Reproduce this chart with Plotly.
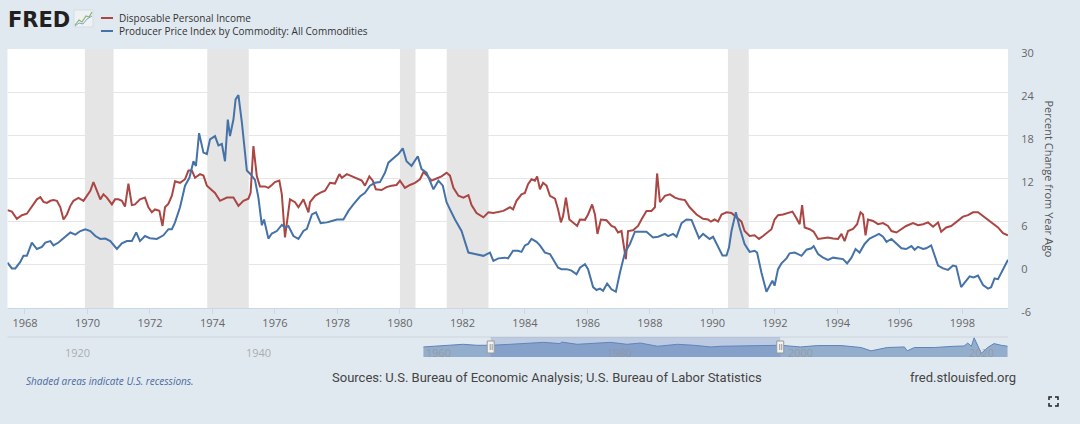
import datetime as dt
import plotly.graph_objects as go

# ---------------- data ----------------
dpi_years = [1967.44, 1967.58, 1967.74, 1967.90, 1968.06, 1968.27, 1968.38, 1968.49, 1968.59, 1968.70,
             1968.81, 1968.91, 1969.02, 1969.13, 1969.23, 1969.34, 1969.45, 1969.55, 1969.71, 1969.87,
             1969.98, 1970.09, 1970.19, 1970.30, 1970.41, 1970.51, 1970.62, 1970.78, 1970.88, 1970.99,
             1971.10, 1971.20, 1971.31, 1971.42, 1971.52, 1971.68, 1971.84, 1971.95, 1972.06, 1972.16,
             1972.30, 1972.40, 1972.48, 1972.59, 1972.70, 1972.80, 1972.96, 1973.12, 1973.23, 1973.34,
             1973.44, 1973.60, 1973.71, 1973.82, 1973.98, 1974.08, 1974.24, 1974.46, 1974.67, 1974.83,
             1974.99, 1975.15, 1975.22, 1975.31, 1975.42, 1975.52, 1975.68, 1975.79, 1975.90, 1976.00,
             1976.14, 1976.22, 1976.32, 1976.40, 1976.48, 1976.64, 1976.75, 1976.91, 1977.07, 1977.12,
             1977.28, 1977.44, 1977.60, 1977.76, 1977.92, 1978.06, 1978.14, 1978.30, 1978.46, 1978.62,
             1978.78, 1978.88, 1979.02, 1979.13, 1979.23, 1979.41, 1979.57, 1979.73, 1979.89, 1980.00,
             1980.16, 1980.32, 1980.48, 1980.64, 1980.75, 1980.85, 1981.01, 1981.17, 1981.33, 1981.49,
             1981.60, 1981.71, 1981.87, 1982.03, 1982.19, 1982.29, 1982.45, 1982.67, 1982.83, 1982.99,
             1983.15, 1983.31, 1983.52, 1983.62, 1983.73, 1983.89, 1984.00, 1984.10, 1984.21, 1984.32,
             1984.39, 1984.48, 1984.58, 1984.69, 1984.80, 1984.96, 1985.06, 1985.15, 1985.22, 1985.31,
             1985.42, 1985.54, 1985.67, 1985.76, 1985.92, 1986.02, 1986.15, 1986.24, 1986.32, 1986.43,
             1986.61, 1986.77, 1986.88, 1986.98, 1987.09, 1987.23, 1987.30, 1987.46, 1987.62, 1987.73,
             1987.89, 1988.05, 1988.16, 1988.23, 1988.32, 1988.48, 1988.64, 1988.80, 1988.96, 1989.12,
             1989.27, 1989.49, 1989.70, 1989.86, 1989.95, 1990.07, 1990.18, 1990.29, 1990.45, 1990.61,
             1990.77, 1990.93, 1991.03, 1991.19, 1991.35, 1991.49, 1991.62, 1991.78, 1991.89, 1991.99,
             1992.10, 1992.26, 1992.42, 1992.56, 1992.67, 1992.79, 1992.87, 1992.95, 1993.11, 1993.24,
             1993.38, 1993.54, 1993.70, 1993.86, 1994.02, 1994.13, 1994.23, 1994.34, 1994.50, 1994.63,
             1994.74, 1994.82, 1994.90, 1994.98, 1995.14, 1995.30, 1995.46, 1995.62, 1995.73, 1995.89,
             1996.05, 1996.20, 1996.42, 1996.58, 1996.74, 1996.90, 1997.06, 1997.22, 1997.32, 1997.48,
             1997.64, 1997.86, 1998.02, 1998.18, 1998.34, 1998.50, 1998.66, 1998.82, 1998.98, 1999.14,
             1999.30, 1999.46]
dpi_values = [7.6, 7.4, 6.4, 6.9, 7.1, 8.4, 9.1, 9.4, 8.75, 8.6,
              8.9, 9.0, 8.9, 8.0, 6.3, 7.0, 8.2, 8.9, 9.3, 8.9,
              9.6, 10.3, 11.5, 10.3, 9.1, 9.8, 9.35, 8.4, 9.1, 9.1,
              8.9, 8.1, 11.3, 8.3, 8.4, 9.1, 9.35, 8.0, 7.3, 7.7,
              7.5, 5.4, 8.0, 8.5, 9.6, 11.6, 11.4, 11.9, 13.1, 13.1,
              12.1, 12.6, 12.4, 11.0, 10.3, 10.0, 8.9, 9.35, 9.35, 8.2,
              8.9, 9.2, 10.0, 16.5, 12.3, 10.9, 10.9, 10.7, 11.1, 11.5,
              11.7, 9.8, 3.8, 6.8, 9.1, 8.7, 8.0, 9.1, 7.3, 8.7,
              9.6, 10.0, 10.3, 11.4, 11.3, 12.6, 12.1, 12.6, 12.3, 12.1,
              11.7, 11.0, 12.3, 11.7, 10.5, 10.4, 10.8, 11.0, 11.1, 11.7,
              10.7, 11.1, 11.4, 11.9, 12.9, 12.5, 11.7, 12.0, 12.3, 12.8,
              12.4, 10.7, 9.6, 9.35, 9.7, 8.3, 7.2, 6.6, 7.3, 7.2,
              7.4, 7.5, 8.0, 7.7, 8.9, 9.8, 10.0, 11.2, 11.9, 11.7,
              12.3, 10.5, 11.4, 11.0, 9.6, 9.2, 7.7, 5.9, 6.8, 9.35,
              6.3, 5.8, 5.4, 6.3, 6.25, 7.0, 8.4, 7.0, 4.3, 6.3,
              6.2, 5.4, 5.2, 4.5, 4.7, 0.8, 4.7, 4.8, 5.4, 6.3,
              7.5, 7.5, 8.0, 12.7, 8.7, 9.6, 9.8, 9.35, 9.1, 9.0,
              8.0, 7.0, 6.4, 6.3, 6.0, 6.3, 6.0, 7.0, 7.3, 7.2,
              6.6, 6.0, 4.7, 4.0, 4.1, 3.6, 4.0, 4.6, 4.95, 6.3,
              6.9, 7.0, 7.2, 7.4, 6.6, 5.65, 8.3, 5.2, 4.95, 4.6,
              3.6, 3.65, 3.8, 3.65, 3.6, 4.3, 3.3, 4.7, 5.0, 5.65,
              7.3, 7.0, 4.1, 6.3, 6.1, 5.65, 5.8, 5.4, 4.7, 4.5,
              5.0, 5.4, 5.8, 5.5, 5.65, 5.9, 5.3, 5.9, 4.6, 5.2,
              5.4, 6.1, 6.7, 6.9, 7.3, 7.3, 6.8, 6.3, 5.8, 5.2,
              4.4, 4.1]

ppi_years = [1967.44, 1967.58, 1967.69, 1967.85, 1967.95, 1968.06, 1968.22, 1968.38, 1968.54, 1968.65,
             1968.81, 1968.91, 1969.07, 1969.23, 1969.45, 1969.61, 1969.77, 1969.93, 1970.09, 1970.25,
             1970.41, 1970.57, 1970.73, 1970.94, 1971.10, 1971.26, 1971.42, 1971.56, 1971.68, 1971.84,
             1972.00, 1972.22, 1972.43, 1972.59, 1972.70, 1972.80, 1972.96, 1973.12, 1973.26, 1973.39,
             1973.47, 1973.57, 1973.71, 1973.82, 1973.92, 1974.08, 1974.19, 1974.30, 1974.40, 1974.49,
             1974.56, 1974.67, 1974.74, 1974.83, 1974.94, 1975.10, 1975.22, 1975.36, 1975.47, 1975.58,
             1975.65, 1975.79, 1975.90, 1976.06, 1976.22, 1976.32, 1976.43, 1976.59, 1976.75, 1976.91,
             1977.02, 1977.18, 1977.31, 1977.46, 1977.66, 1977.82, 1977.98, 1978.19, 1978.35, 1978.51,
             1978.72, 1978.88, 1979.04, 1979.20, 1979.36, 1979.52, 1979.63, 1979.79, 1979.95, 1980.09,
             1980.21, 1980.37, 1980.57, 1980.69, 1980.85, 1981.07, 1981.23, 1981.37, 1981.49, 1981.60,
             1981.76, 1981.97, 1982.19, 1982.40, 1982.67, 1982.88, 1982.99, 1983.15, 1983.36, 1983.46,
             1983.62, 1983.78, 1983.89, 1984.00, 1984.10, 1984.21, 1984.37, 1984.48, 1984.64, 1984.80,
             1984.90, 1985.06, 1985.17, 1985.33, 1985.49, 1985.65, 1985.76, 1985.92, 1986.02, 1986.18,
             1986.29, 1986.40, 1986.50, 1986.63, 1986.77, 1986.91, 1987.04, 1987.20, 1987.36, 1987.52,
             1987.68, 1987.89, 1988.10, 1988.26, 1988.48, 1988.58, 1988.74, 1988.85, 1989.01, 1989.17,
             1989.33, 1989.43, 1989.57, 1989.70, 1989.81, 1989.91, 1990.02, 1990.18, 1990.32, 1990.45,
             1990.53, 1990.61, 1990.75, 1990.87, 1991.03, 1991.19, 1991.35, 1991.43, 1991.57, 1991.73,
             1991.83, 1991.92, 1991.99, 1992.10, 1992.21, 1992.37, 1992.47, 1992.63, 1992.74, 1992.85,
             1993.01, 1993.17, 1993.24, 1993.38, 1993.54, 1993.70, 1993.86, 1994.02, 1994.18, 1994.31,
             1994.45, 1994.58, 1994.71, 1994.87, 1995.03, 1995.19, 1995.33, 1995.46, 1995.57, 1995.73,
             1995.89, 1996.05, 1996.20, 1996.37, 1996.47, 1996.58, 1996.74, 1996.84, 1997.00, 1997.11,
             1997.22, 1997.38, 1997.54, 1997.70, 1997.80, 1997.96, 1998.12, 1998.23, 1998.36, 1998.50,
             1998.66, 1998.82, 1998.92, 1999.03, 1999.14, 1999.30, 1999.46]
ppi_values = [0.3, -0.5, -0.5, 0.4, 1.25, 1.25, 3.1, 2.2, 2.5, 3.1,
              3.3, 2.7, 3.1, 3.65, 4.5, 4.2, 4.7, 4.95, 4.7, 4.0,
              3.6, 3.65, 3.3, 2.2, 3.0, 3.3, 3.3, 4.5, 3.3, 4.0,
              3.7, 3.6, 4.1, 4.95, 4.95, 5.9, 8.0, 11.0, 12.1, 14.4,
              13.75, 18.3, 15.6, 15.4, 17.45, 17.9, 16.6, 16.8, 14.4, 20.2,
              17.9, 20.2, 23.0, 23.6, 19.8, 13.1, 12.6, 11.8, 9.35, 5.5,
              6.3, 3.65, 4.35, 4.7, 5.55, 5.2, 5.4, 4.0, 3.6, 4.7,
              5.0, 7.0, 7.3, 5.8, 5.9, 6.1, 6.3, 6.3, 7.5, 8.4,
              9.5, 10.0, 11.0, 11.4, 11.5, 12.8, 14.2, 14.8, 15.4, 16.2,
              14.4, 13.75, 15.1, 13.3, 12.8, 10.5, 11.7, 11.0, 8.7, 7.7,
              6.3, 4.7, 1.7, 1.5, 1.25, 1.7, 0.55, 0.9, 1.0, 0.9,
              1.95, 1.95, 1.8, 2.7, 2.9, 3.6, 3.2, 2.7, 1.7, 1.5,
              0.8, -0.4, -0.6, -0.6, -0.8, -1.3, -0.4, 0.1, -0.6, -3.1,
              -3.5, -3.3, -3.6, -2.6, -3.4, -3.75, -1.1, 1.7, 2.9, 4.6,
              4.6, 4.6, 3.8, 3.9, 4.3, 4.0, 4.3, 3.9, 5.8, 6.3,
              6.25, 5.2, 3.7, 4.3, 3.9, 3.6, 3.9, 2.4, 1.3, 1.3,
              2.4, 4.7, 7.3, 5.2, 2.9, 1.8, 1.95, 1.7, -1.1, -3.75,
              -2.9, -2.2, -2.9, -0.6, 0.2, 0.9, 1.6, 1.7, 1.5, 1.25,
              2.1, 2.3, 2.6, 1.5, 1.0, 0.7, 1.0, 0.9, 0.8, 0.2,
              1.0, 2.2, 1.7, 2.9, 3.65, 4.0, 4.3, 3.9, 3.2, 3.6,
              3.0, 2.3, 2.2, 2.6, 2.1, 2.5, 2.2, 2.3, 2.7, 1.25,
              -0.1, -0.5, -0.7, -0.1, -0.2, -3.1, -2.2, -1.6, -1.75, -1.5,
              -2.8, -3.3, -3.1, -1.9, -2.0, -0.6, 0.7]

# navigator (full-history overview of the first series, on its own small scale)
nav_years = [1960.0, 1961.5, 1963.0, 1964.4, 1965.9, 1967.5, 1969.6, 1971.5, 1973.3, 1975.1,
             1975.3, 1977.0, 1978.8, 1980.7, 1982.5, 1984.0, 1985.9, 1988.1, 1989.9, 1991.8,
             1992.9, 1995.1, 1997.3, 1999.5, 2001.7, 2003.6, 2006.2, 2008.4, 2009.5, 2011.3,
             2013.2, 2013.5, 2014.3, 2016.5, 2018.7, 2019.8, 2020.2, 2020.6, 2020.9, 2021.3,
             2021.7, 2022.4, 2023.1, 2023.9, 2024.6]
nav_values = [9.6, 11.1, 13.2, 15.3, 13.2, 13.2, 15.3, 16.8, 19.5, 16.8,
              20.1, 15.3, 18.0, 19.5, 15.3, 18.0, 11.1, 15.3, 13.2, 9.6,
              11.1, 11.7, 12.6, 13.2, 9.6, 12.6, 12.6, 8.4, 1.2, 8.4,
              9.6, 1.2, 8.4, 8.4, 11.1, 11.7, 18.0, 11.1, 29.4, 11.1,
              -4.2, 8.4, 16.8, 13.2, 11.1]

recessions = [("1969-12-01", "1970-11-01"), ("1973-11-01", "1975-03-01"),
              ("1980-01-01", "1980-07-01"), ("1981-07-01", "1982-11-01"),
              ("1990-07-01", "1991-03-01")]

x_tick_years = list(range(1968, 2000, 2))
y_ticks = [-6, 0, 6, 12, 18, 24, 30]
nav_tick_years = [1920, 1940, 1960, 1980, 2000, 2020]

series_names = ["Disposable Personal Income",
                "Producer Price Index by Commodity: All Commodities"]
RED = "#AA4643"
BLUE = "#4572A7"
BG = "#e1e9f0"
W, H = 1080, 424


def dy(y):
    yr = int(y)
    start = dt.datetime(yr, 1, 1)
    days = (dt.datetime(yr + 1, 1, 1) - start).days
    return start + dt.timedelta(days=(y - yr) * days)


def px(x):
    return x / W


def py(y):
    return 1 - y / H


X_RANGE = [dy(1967.44), dy(1999.46)]
NAV_RANGE = [dy(1914.0), dy(2024.65)]
NAV_Y = [-12, 31]
PLOT_L, PLOT_R, PLOT_T, PLOT_B = 7.5, 1008, 49, 308
NAV_T, NAV_B = 337, 357

fig = go.Figure()

fig.add_trace(go.Scatter(x=[dy(v) for v in dpi_years], y=dpi_values, mode="lines",
                         line=dict(color=RED, width=2), name=series_names[0],
                         xaxis="x", yaxis="y"))
fig.add_trace(go.Scatter(x=[dy(v) for v in ppi_years], y=ppi_values, mode="lines",
                         line=dict(color=BLUE, width=2), name=series_names[1],
                         xaxis="x", yaxis="y"))

# navigator area
nav_x = [dy(v) for v in nav_years]
fig.add_trace(go.Scatter(x=[nav_x[0], nav_x[-1]], y=[NAV_Y[0], NAV_Y[0]], mode="lines",
                         line=dict(width=0, color="rgba(0,0,0,0)"), xaxis="x2", yaxis="y2",
                         hoverinfo="skip"))
fig.add_trace(go.Scatter(x=nav_x, y=nav_values, mode="lines", fill="tonexty",
                         fillcolor="rgba(69,114,167,0.5)",
                         line=dict(color="#5f84b8", width=1), xaxis="x2", yaxis="y2",
                         hoverinfo="skip"))

shapes = []
# white plotting area
shapes.append(dict(type="rect", xref="paper", yref="paper", x0=px(PLOT_L), x1=px(PLOT_R),
                   y0=py(PLOT_B), y1=py(PLOT_T), fillcolor="white", line=dict(width=0),
                   layer="below"))
for a, b in recessions:
    shapes.append(dict(type="rect", xref="x", yref="paper", x0=a, x1=b,
                       y0=py(PLOT_B), y1=py(PLOT_T),
                       fillcolor="#e5e5e5", line=dict(width=0), layer="below"))
# navigator top line
shapes.append(dict(type="line", xref="paper", yref="paper", x0=px(PLOT_L), x1=px(PLOT_R),
                   y0=py(NAV_T), y1=py(NAV_T), line=dict(color="#cdd3da", width=1)))
# navigator selection mask
shapes.append(dict(type="rect", xref="x2", yref="paper", x0=X_RANGE[0], x1=X_RANGE[1],
                   y0=py(NAV_B), y1=py(NAV_T), fillcolor="rgba(102,133,194,0.3)",
                   line=dict(width=0), layer="above"))
# handles
hc = py((NAV_T + NAV_B) / 2)
for xv in X_RANGE:
    shapes.append(dict(type="rect", xref="x2", yref="paper", xsizemode="pixel",
                       ysizemode="pixel", xanchor=xv, yanchor=hc, x0=-3.5, x1=3.5,
                       y0=-6, y1=6, fillcolor="#f2f2f2", line=dict(color="#999999", width=1),
                       layer="above"))
    for off in (-0.5, 1.5):
        shapes.append(dict(type="line", xref="x2", yref="paper", xsizemode="pixel",
                           ysizemode="pixel", xanchor=xv, yanchor=hc, x0=off, x1=off,
                           y0=-3, y1=3, line=dict(color="#999999", width=1), layer="above"))
# legend swatches
shapes.append(dict(type="line", xref="paper", yref="paper", x0=px(101), x1=px(113),
                   y0=py(18), y1=py(18), line=dict(color=RED, width=2)))
shapes.append(dict(type="line", xref="paper", yref="paper", x0=px(101), x1=px(113),
                   y0=py(31), y1=py(31), line=dict(color=BLUE, width=2)))
# small FRED logo graph icon
shapes.append(dict(type="rect", xref="paper", yref="paper", x0=px(74), x1=px(93),
                   y0=py(27), y1=py(10), fillcolor="#eef2f5", line=dict(color="#d5dbe0", width=1)))
shapes.append(dict(type="path", xref="paper", yref="paper",
                   path=f"M {px(75)},{py(25)} L {px(79)},{py(20)} L {px(82)},{py(22)} "
                        f"L {px(86)},{py(16)} L {px(89)},{py(17)} L {px(92)},{py(12)}",
                   line=dict(color="#8db36a", width=1.2)))
shapes.append(dict(type="path", xref="paper", yref="paper",
                   path=f"M {px(75)},{py(26)} L {px(79)},{py(23)} L {px(83)},{py(24)} "
                        f"L {px(87)},{py(19)} L {px(92)},{py(16)}",
                   line=dict(color="#7fa3c8", width=1)))
# fullscreen icon corners
cx0, cx1, cy0, cy1, k = 1049, 1058, 397, 406, 3
for (xa, ya, dx, dyy) in [(cx0, cy0, 1, 1), (cx1, cy0, -1, 1), (cx0, cy1, 1, -1), (cx1, cy1, -1, -1)]:
    shapes.append(dict(type="path", xref="paper", yref="paper",
                       path=f"M {px(xa + dx * k)},{py(ya)} L {px(xa)},{py(ya)} L {px(xa)},{py(ya + dyy * k)}",
                       line=dict(color="#222222", width=1.5)))

annotations = [
    dict(text="<b>FRED</b>", x=px(6), y=py(19.5), xref="paper", yref="paper", xanchor="left",
         yanchor="middle", showarrow=False,
         font=dict(family="DejaVu Sans", size=21, color="#231f20")),
    dict(text=series_names[0], x=px(117), y=py(18), xref="paper", yref="paper",
         xanchor="left", yanchor="middle", showarrow=False,
         font=dict(family="Open Sans", size=10, color="#333333")),
    dict(text=series_names[1], x=px(117), y=py(31), xref="paper", yref="paper",
         xanchor="left", yanchor="middle", showarrow=False,
         font=dict(family="Open Sans", size=10, color="#333333")),
    dict(text="Percent Change from Year Ago", x=px(1049), y=py((PLOT_T + PLOT_B) / 2),
         xref="paper", yref="paper", xanchor="center", yanchor="middle", textangle=90,
         showarrow=False, font=dict(family="Open Sans", size=11, color="#555555")),
    dict(text="<i>Shaded areas indicate U.S. recessions.</i>", x=px(24), y=py(381),
         xref="paper", yref="paper", xanchor="left", yanchor="middle", showarrow=False,
         font=dict(family="Open Sans", size=10, color="#4a6aa0")),
    dict(text="Sources: U.S. Bureau of Economic Analysis; U.S. Bureau of Labor Statistics",
         x=px(547), y=py(377), xref="paper", yref="paper", xanchor="center", yanchor="middle",
         showarrow=False, font=dict(family="Roboto", size=13, color="#444444")),
    dict(text="fred.stlouisfed.org", x=px(1018), y=py(377), xref="paper", yref="paper",
         xanchor="right", yanchor="middle", showarrow=False,
         font=dict(family="Roboto", size=13, color="#444444")),
]
# navigator axis labels (left-aligned just right of each year tick)
for yv in nav_tick_years:
    annotations.append(dict(text=str(yv), x=dt.datetime(yv, 1, 1), y=py(352), xref="x2",
                            yref="paper", xanchor="left", yanchor="middle", xshift=1,
                            showarrow=False,
                            font=dict(family="Open Sans", size=11, color="rgba(150,150,150,0.75)")))

fig.update_layout(
    width=W, height=H, margin=dict(l=0, r=0, t=0, b=0, autoexpand=False),
    paper_bgcolor=BG, plot_bgcolor=BG, showlegend=False,
    shapes=shapes, annotations=annotations,
    xaxis=dict(domain=[px(PLOT_L), px(PLOT_R)], anchor="y", type="date", range=X_RANGE,
               automargin=False,
               tickvals=[dt.datetime(y, 1, 1) for y in x_tick_years],
               ticktext=[str(y) for y in x_tick_years],
               showgrid=False, zeroline=False, showline=True, linecolor="#ccd6eb", linewidth=1,
               ticks="outside", ticklen=5, tickcolor="#ccd6eb",
               tickfont=dict(family="Open Sans", size=11, color="#666666")),
    yaxis=dict(domain=[py(PLOT_B), py(PLOT_T)], anchor="x", side="right", range=[-6, 30],
               automargin=False,
               tickvals=y_ticks, ticktext=[str(v) for v in y_ticks],
               showgrid=True, gridcolor="#e6e6e6", gridwidth=1, zeroline=False, showline=False,
               ticks="outside", ticklen=10, tickcolor="rgba(0,0,0,0)", ticklabelshift=4,
               tickfont=dict(family="Open Sans", size=11, color="#666666")),
    xaxis2=dict(domain=[px(PLOT_L), px(PLOT_R)], anchor="y2", type="date", range=NAV_RANGE,
                automargin=False, showticklabels=False, ticks="", showgrid=False,
                zeroline=False, showline=False),
    yaxis2=dict(domain=[py(NAV_B), py(NAV_T)], anchor="x2", range=NAV_Y, visible=False,
                automargin=False, showgrid=False, zeroline=False),
)

fig.write_html("out.html", config={"displayModeBar": False})

# remove the default page margin so the figure sits at the window's top-left corner
with open("out.html", "r", encoding="utf-8") as f:
    html = f.read()
html = html.replace("<body>", '<body style="margin:0;padding:0;">', 1)
with open("out.html", "w", encoding="utf-8") as f:
    f.write(html)
